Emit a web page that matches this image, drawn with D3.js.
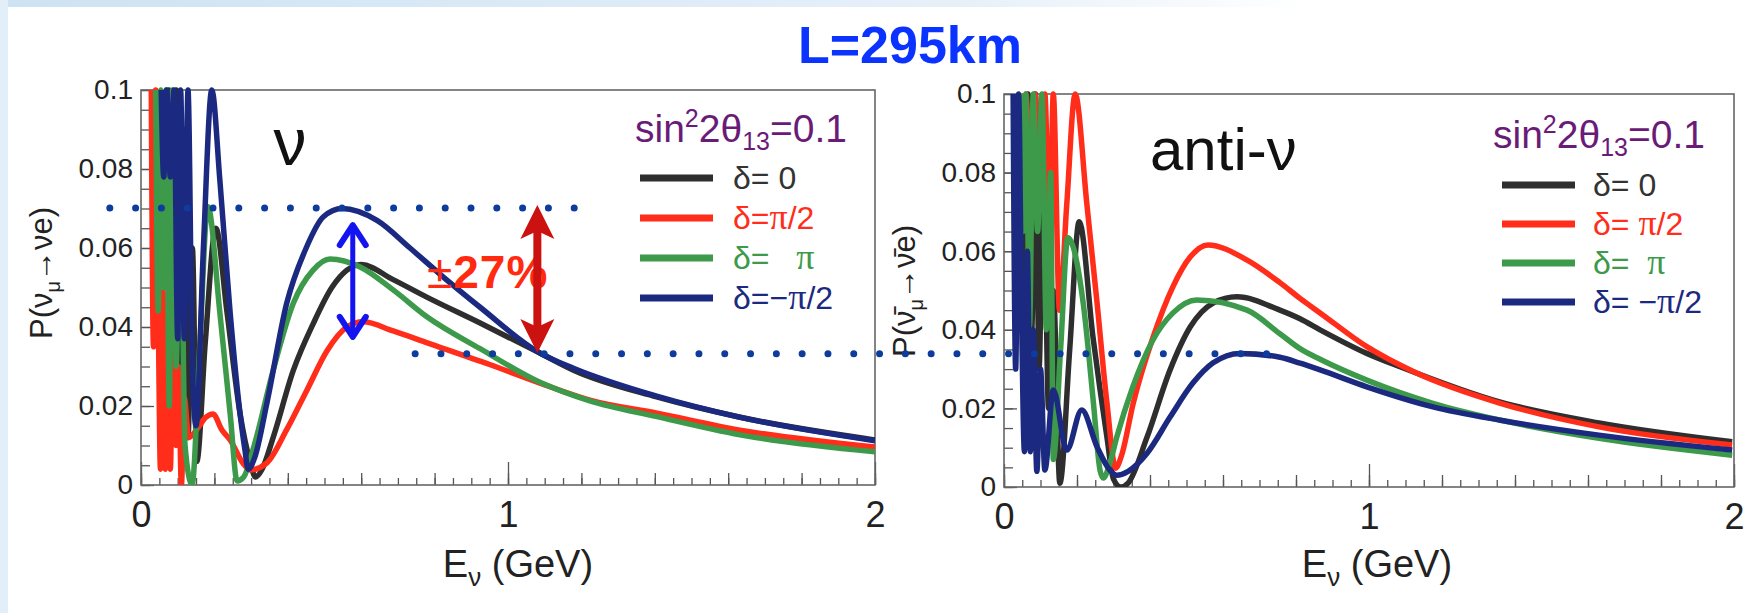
<!DOCTYPE html>
<html>
<head>
<meta charset="utf-8">
<script src="https://cdn.jsdelivr.net/npm/d3@7"></script>
<style>
  html, body { margin: 0; padding: 0; background: #fff; }
  svg { display: block; }
  text { font-family: "Liberation Sans", Arial, sans-serif; white-space: pre; }
</style>
</head>
<body>
<div id="chart"></div>
<script>
// axis ticks
const energyTicks = [0, 1, 2];
const energyMidTicks = d3.range(0, 11).map(i => i * 0.2);
const energyMinorTicks = d3.range(0, 41).map(i => i * 0.05);
const probTicks = [0, 0.02, 0.04, 0.06, 0.08, 0.1];
const probMinorTicks = d3.range(0, 21).map(i => i * 0.005);
const probTickLabels = ["0", "0.02", "0.04", "0.06", "0.08", "0.1"];

// series, [E (GeV), probability]
const nuDelta0 = [[0.060,0.100],[0.068,0.060],[0.076,0.100],[0.086,0.025],[0.096,0.100],[0.106,0.030],[0.116,0.090],[0.128,0.012],[0.140,0.060],[0.152,0.006],[0.175,0.036],[0.204,0.065],[0.234,0.044],[0.270,0.018],[0.297,0.006],[0.312,0.002],[0.330,0.004],[0.360,0.012],[0.415,0.029],[0.470,0.041],[0.520,0.050],[0.600,0.0558],[0.687,0.052],[0.780,0.0475],[0.924,0.041],[1.087,0.0334],[1.180,0.029],[1.405,0.0223],[1.630,0.0172],[2.000,0.0114]];
const nuDeltaHalfPi = [[0.028,0.100],[0.034,0.035],[0.040,0.100],[0.047,0.044],[0.053,0.004],[0.060,0.049],[0.066,0.004],[0.073,0.030],[0.080,0.004],[0.088,0.050],[0.095,0.010],[0.102,0.030],[0.110,0.000],[0.118,0.022],[0.130,0.012],[0.155,0.0144],[0.175,0.017],[0.196,0.018],[0.220,0.014],[0.243,0.0114],[0.278,0.0055],[0.297,0.0038],[0.343,0.0056],[0.397,0.014],[0.452,0.024],[0.507,0.034],[0.561,0.040],[0.605,0.0413],[0.687,0.039],[0.780,0.036],[0.950,0.0305],[1.087,0.0258],[1.223,0.0215],[1.406,0.0182],[1.632,0.0139],[2.000,0.0096]];
const nuDeltaPi = [[0.040,0.100],[0.047,0.044],[0.054,0.100],[0.061,0.050],[0.068,0.100],[0.077,0.020],[0.086,0.100],[0.096,0.030],[0.106,0.090],[0.120,0.010],[0.139,0.000],[0.160,0.035],[0.182,0.0705],[0.215,0.0435],[0.243,0.018],[0.262,0.001],[0.280,0.002],[0.305,0.0089],[0.360,0.029],[0.415,0.046],[0.469,0.0544],[0.515,0.0572],[0.597,0.0552],[0.687,0.0494],[0.779,0.0426],[0.924,0.0345],[1.087,0.026],[1.223,0.0213],[1.406,0.0173],[1.632,0.0127],[2.000,0.0084]];
const nuDeltaMinusHalfPi = [[0.055,0.100],[0.062,0.078],[0.070,0.100],[0.080,0.078],[0.090,0.100],[0.100,0.037],[0.108,0.100],[0.118,0.037],[0.128,0.100],[0.140,0.030],[0.150,0.015],[0.170,0.060],[0.193,0.100],[0.215,0.077],[0.243,0.0435],[0.270,0.018],[0.283,0.009],[0.292,0.004],[0.310,0.007],[0.343,0.0207],[0.397,0.046],[0.450,0.060],[0.497,0.0679],[0.548,0.070],[0.643,0.067],[0.733,0.060],[0.823,0.0527],[0.924,0.045],[1.087,0.0334],[1.180,0.0295],[1.405,0.0225],[1.630,0.0172],[2.000,0.0112]];

const antiDelta0 = [[0.050,0.100],[0.058,0.042],[0.066,0.100],[0.076,0.040],[0.086,0.100],[0.096,0.030],[0.108,0.085],[0.122,0.020],[0.135,0.050],[0.153,0.001],[0.180,0.035],[0.206,0.0675],[0.244,0.038],[0.282,0.0127],[0.300,0.002],[0.320,0.000],[0.340,0.001],[0.392,0.0127],[0.455,0.0298],[0.510,0.0407],[0.573,0.0468],[0.638,0.0484],[0.756,0.045],[0.811,0.0428],[0.866,0.040],[0.994,0.034],[1.085,0.0306],[1.360,0.0216],[1.630,0.0163],[1.995,0.0115]];
const antiDeltaHalfPi = [[0.040,0.100],[0.050,0.080],[0.060,0.100],[0.072,0.082],[0.085,0.100],[0.100,0.080],[0.112,0.100],[0.125,0.060],[0.135,0.100],[0.152,0.045],[0.172,0.072],[0.195,0.100],[0.227,0.072],[0.255,0.0468],[0.282,0.0214],[0.306,0.0048],[0.322,0.008],[0.354,0.0213],[0.408,0.038],[0.463,0.051],[0.510,0.0585],[0.559,0.0616],[0.665,0.0578],[0.756,0.052],[0.811,0.048],[0.866,0.0443],[0.994,0.0357],[1.130,0.029],[1.360,0.0213],[1.630,0.0153],[1.995,0.0107]];
const antiDeltaPi = [[0.045,0.100],[0.052,0.065],[0.060,0.100],[0.070,0.041],[0.080,0.100],[0.092,0.065],[0.104,0.100],[0.116,0.040],[0.128,0.080],[0.135,0.007],[0.155,0.035],[0.175,0.0634],[0.217,0.0468],[0.245,0.0214],[0.263,0.0043],[0.272,0.0023],[0.290,0.006],[0.309,0.0127],[0.353,0.0255],[0.408,0.0374],[0.463,0.0443],[0.528,0.0476],[0.666,0.045],[0.756,0.039],[0.811,0.0352],[0.866,0.0325],[0.994,0.0272],[1.175,0.0213],[1.360,0.017],[1.630,0.0124],[1.995,0.0081]];
const antiDeltaMinusHalfPi = [[0.025,0.100],[0.032,0.030],[0.040,0.100],[0.048,0.045],[0.056,0.009],[0.064,0.060],[0.072,0.009],[0.080,0.040],[0.090,0.004],[0.100,0.030],[0.112,0.0043],[0.135,0.0247],[0.172,0.0094],[0.213,0.0196],[0.255,0.0102],[0.290,0.0043],[0.309,0.003],[0.340,0.004],[0.392,0.0086],[0.455,0.0178],[0.518,0.0265],[0.573,0.0316],[0.647,0.034],[0.756,0.033],[0.811,0.0315],[0.866,0.0298],[0.994,0.0255],[1.175,0.0204],[1.360,0.017],[1.630,0.0132],[1.995,0.0094]];

const seriesColors = ["#2e2e2e", "#ff2d1a", "#3c9a4a", "#1b2a80"];
const nuLegendLabels = ["δ= 0", "δ=π/2", "δ=   π", "δ=−π/2"];
const antiLegendLabels = ["δ= 0", "δ= π/2", "δ=  π", "δ= −π/2"];

// annotation levels (left panel units)
const upperRefLine = { p: 0.0701, e0: -0.085, e1: 1.185 };
const lowerRefLine = { p: 0.0332, e0: 0.747, e1: 3.07 };
const redArrow = { e: 1.08, p0: 0.0334, p1: 0.0709 };
const blueArrow = { e: 0.577, p0: 0.0375, p1: 0.0658 };

const width = 1746, height = 613;

const panels = [
  { left: 141, right: 875, top: 90, bottom: 485,
    series: [nuDelta0, nuDeltaHalfPi, nuDeltaPi, nuDeltaMinusHalfPi],
    legend: nuLegendLabels, legendX: 640, legendY: 178, legendStep: 40, legendTextX: 733,
    sinX: 635, sinY: 142, yLabelX: 52, yLabelY: 273, bar: "", xLabelX: 518 },
  { left: 1004, right: 1734, top: 94, bottom: 487,
    series: [antiDelta0, antiDeltaHalfPi, antiDeltaPi, antiDeltaMinusHalfPi],
    legend: antiLegendLabels, legendX: 1502, legendY: 185, legendStep: 39, legendTextX: 1593,
    sinX: 1493, sinY: 148, yLabelX: 915, yLabelY: 291, bar: "\u0304", xLabelX: 1377 }
];

const svg = d3.select("#chart").append("svg")
  .attr("width", width)
  .attr("height", height);

const defs = svg.append("defs");
const band = defs.append("linearGradient").attr("id", "band");
band.append("stop").attr("offset", "0%").attr("stop-color", "#cde2f3");
band.append("stop").attr("offset", "55%").attr("stop-color", "#e6f0f9");
band.append("stop").attr("offset", "75%").attr("stop-color", "#ffffff");

svg.append("rect").attr("width", width).attr("height", height).attr("fill", "#fff");
svg.append("rect").attr("width", width).attr("height", 7).attr("fill", "url(#band)");
svg.append("rect").attr("width", 8).attr("height", height).attr("fill", "#e2eef8");

svg.append("text")
  .attr("x", 910).attr("y", 63)
  .attr("text-anchor", "middle")
  .attr("font-weight", "bold")
  .attr("font-size", 52)
  .attr("fill", "#0a33ff")
  .text("L=295km");

let scales = [];

panels.forEach((p, pi) => {
  const x = d3.scaleLinear().domain([0, 2]).range([p.left, p.right]);
  const y = d3.scaleLinear().domain([0, 0.1]).range([p.bottom, p.top]);
  scales.push({ x, y });

  const g = svg.append("g");

  // x ticks, three levels, pointing into the frame
  const xMinor = g.append("g").attr("transform", `translate(0,${p.bottom})`)
    .call(d3.axisBottom(x).tickValues(energyMinorTicks).tickSize(-7).tickFormat(""));
  const xMid = g.append("g").attr("transform", `translate(0,${p.bottom})`)
    .call(d3.axisBottom(x).tickValues(energyMidTicks).tickSize(-12).tickFormat(""));
  const xMajor = g.append("g").attr("transform", `translate(0,${p.bottom})`)
    .call(d3.axisBottom(x).tickValues(energyTicks).tickSize(-23).tickPadding(16).tickFormat(d3.format("d")));
  xMajor.attr("font-size", 36).attr("font-family", "Liberation Sans, Arial, sans-serif");

  const yMinor = g.append("g").attr("transform", `translate(${p.left},0)`)
    .call(d3.axisLeft(y).tickValues(probMinorTicks).tickSize(-9).tickFormat(""));
  const yMajor = g.append("g").attr("transform", `translate(${p.left},0)`)
    .call(d3.axisLeft(y).tickValues(probTicks).tickSize(-13).tickPadding(8)
      .tickFormat((d, i) => probTickLabels[i]));
  yMajor.attr("font-size", 28).attr("font-family", "Liberation Sans, Arial, sans-serif");

  [xMinor, xMid, xMajor, yMinor, yMajor].forEach(a => {
    a.select(".domain").remove();
    a.selectAll("line").attr("stroke", "#555").attr("stroke-width", 1.3);
    a.selectAll("text").attr("fill", "#222");
  });

  g.append("rect")
    .attr("x", p.left).attr("y", p.top)
    .attr("width", p.right - p.left).attr("height", p.bottom - p.top)
    .attr("fill", "none").attr("stroke", "#666").attr("stroke-width", 1.6);

  defs.append("clipPath").attr("id", "clip" + pi)
    .append("rect")
    .attr("x", p.left).attr("y", p.top - 10)
    .attr("width", p.right - p.left).attr("height", p.bottom - p.top + 10);

  const line = d3.line()
    .x(d => x(d[0]))
    .y(d => y(d[1]))
    .curve(d3.curveMonotoneX);

  g.append("g").attr("clip-path", `url(#clip${pi})`)
    .selectAll("path")
    .data(p.series)
    .enter()
    .append("path")
    .attr("d", line)
    .attr("fill", "none")
    .attr("stroke", (d, i) => seriesColors[i])
    .attr("stroke-width", 5.5)
    .attr("stroke-linejoin", "round");

  // legend
  const sin = g.append("text")
    .attr("x", p.sinX).attr("y", p.sinY)
    .attr("font-family", "Open Sans, sans-serif")
    .attr("font-size", 39)
    .attr("fill", "#6a1b78");
  sin.append("tspan").text("sin");
  sin.append("tspan").attr("font-size", 25).attr("dy", -15).text("2");
  sin.append("tspan").attr("dy", 15).text("2θ");
  sin.append("tspan").attr("font-size", 25).attr("dy", 8).text("13");
  sin.append("tspan").attr("dy", -8).text("=0.1");

  p.legend.forEach((label, i) => {
    const ly = p.legendY + i * p.legendStep;
    g.append("line")
      .attr("x1", p.legendX).attr("x2", p.legendX + 73)
      .attr("y1", ly).attr("y2", ly)
      .attr("stroke", seriesColors[i]).attr("stroke-width", 7);
    const t = g.append("text")
      .attr("x", p.legendTextX).attr("y", ly + 11)
      .attr("font-family", "Open Sans, sans-serif")
      .attr("font-size", 32)
      .attr("fill", i === 0 ? "#333" : seriesColors[i]);
    label.split("π").forEach((part, k) => {
      if (k > 0) t.append("tspan").attr("font-family", "Liberation Serif, serif").attr("font-size", 36).text("π");
      t.append("tspan").text(part);
    });
  });

  // axis titles
  const xt = g.append("text")
    .attr("x", p.xLabelX).attr("y", 577)
    .attr("text-anchor", "middle")
    .attr("font-size", 38)
    .attr("fill", "#222");
  xt.append("tspan").text("E");
  xt.append("tspan").attr("font-size", 26).attr("dy", 9).text("ν");
  xt.append("tspan").attr("dy", -9).text(" (GeV)");

  const yt = g.append("text")
    .attr("transform", `translate(${p.yLabelX},${p.yLabelY}) rotate(-90)`)
    .attr("text-anchor", "middle")
    .attr("font-size", 31)
    .attr("fill", "#222");
  yt.append("tspan").text("P(ν" + p.bar);
  yt.append("tspan").attr("font-size", 20).attr("dy", 8).text("μ");
  yt.append("tspan").attr("dy", -8).text("→ν" + p.bar + "e)");
});

svg.append("text")
  .attr("x", 290).attr("y", 165)
  .attr("text-anchor", "middle")
  .attr("font-family", "Liberation Serif, serif")
  .attr("font-size", 66)
  .attr("fill", "#111")
  .text("ν");

svg.append("text")
  .attr("x", 1150).attr("y", 170)
  .attr("font-family", "Open Sans, sans-serif")
  .attr("font-size", 60)
  .attr("fill", "#111")
  .text("anti-ν");

const xl = scales[0].x, yl = scales[0].y;

const pct = svg.append("text")
  .attr("x", 427).attr("y", 288)
  .attr("font-size", 46)
  .attr("letter-spacing", 1)
  .attr("fill", "#ff2a10");
pct.append("tspan").text("±");
pct.append("tspan").attr("font-weight", "bold").text("27%");

// red double arrow
const ra = svg.append("g").attr("fill", "#cc1111").attr("stroke", "#cc1111");
ra.append("line")
  .attr("x1", xl(redArrow.e)).attr("x2", xl(redArrow.e))
  .attr("y1", yl(redArrow.p1) + 25).attr("y2", yl(redArrow.p0) - 25)
  .attr("stroke-width", 8);
[[redArrow.p1, 1], [redArrow.p0, -1]].forEach(([p, s]) => {
  const tx = xl(redArrow.e), ty = yl(p);
  ra.append("path")
    .attr("stroke", "none")
    .attr("d", `M${tx},${ty} L${tx - 17},${ty + s * 34} L${tx},${ty + s * 26} L${tx + 17},${ty + s * 34} Z`);
});

// blue double arrow
const ba = svg.append("g").attr("fill", "none").attr("stroke", "#1414f0")
  .attr("stroke-linecap", "round").attr("stroke-linejoin", "round");
ba.append("line")
  .attr("x1", xl(blueArrow.e)).attr("x2", xl(blueArrow.e))
  .attr("y1", yl(blueArrow.p1) + 2).attr("y2", yl(blueArrow.p0) - 2)
  .attr("stroke-width", 5);
[[blueArrow.p1, 1], [blueArrow.p0, -1]].forEach(([p, s]) => {
  const tx = xl(blueArrow.e), ty = yl(p);
  ba.append("path")
    .attr("stroke-width", 6)
    .attr("d", `M${tx - 13},${ty + s * 20} L${tx},${ty} L${tx + 13},${ty + s * 20}`);
});

// dotted reference levels
[upperRefLine, lowerRefLine].forEach(r => {
  svg.append("line")
    .attr("x1", xl(r.e0)).attr("x2", xl(r.e1))
    .attr("y1", yl(r.p)).attr("y2", yl(r.p))
    .attr("stroke", "#0d3b9e")
    .attr("stroke-width", 7)
    .attr("stroke-linecap", "round")
    .attr("stroke-dasharray", "0 25.8");
});
</script>
</body>
</html>
